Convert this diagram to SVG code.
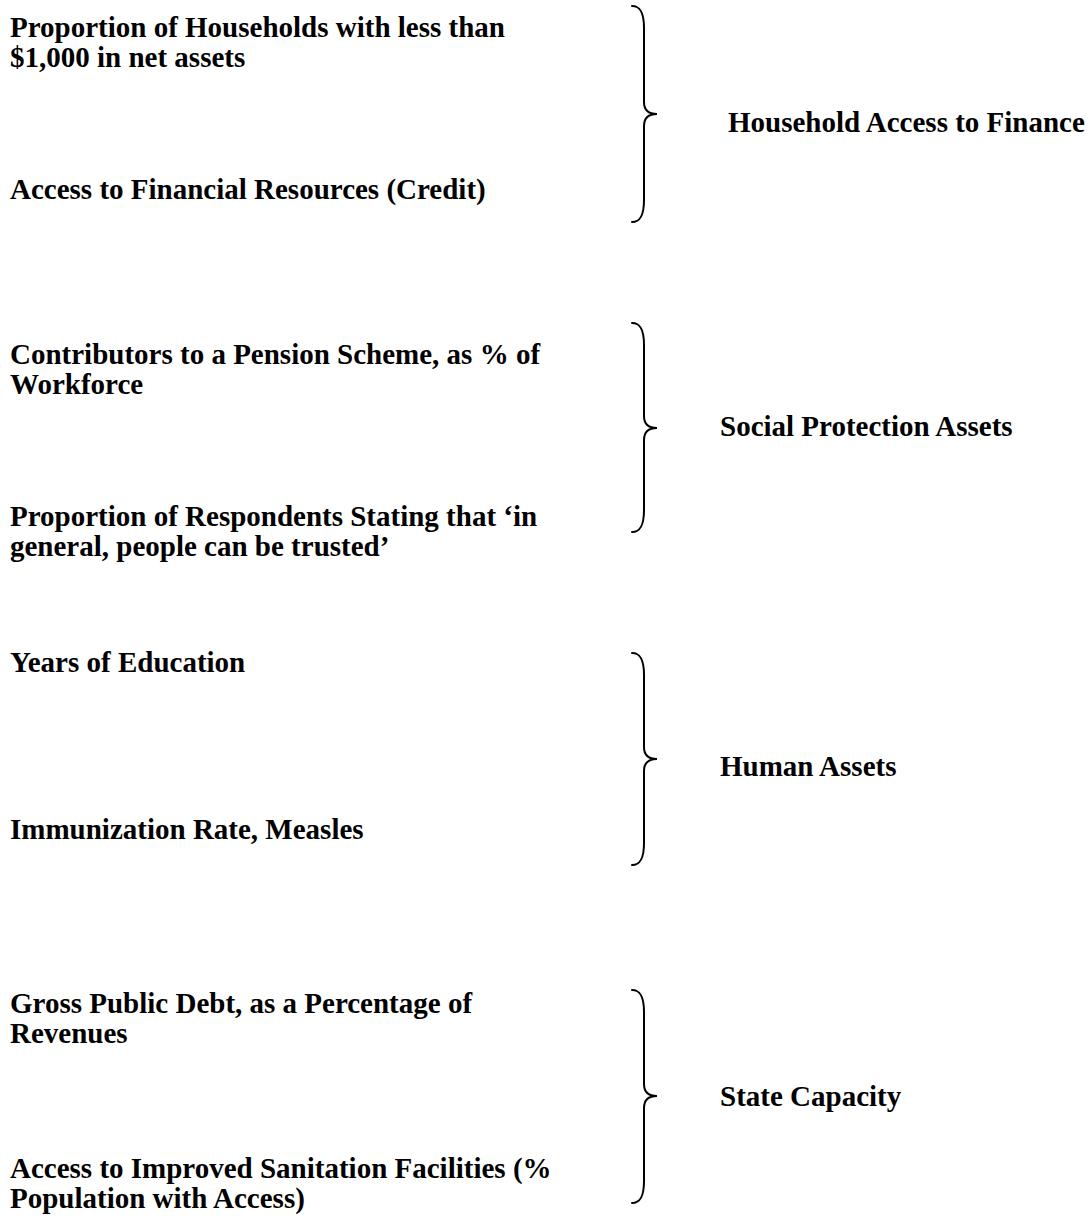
<svg xmlns="http://www.w3.org/2000/svg" width="1088" height="1218" viewBox="0 0 1088 1218">
  <style>
    .t { font-family: "Liberation Serif", "Times New Roman", serif; font-weight: bold; font-size: 29px; fill: #000; }
    .brace { fill: none; stroke: #000; stroke-width: 2; stroke-linecap: round; }
  </style>
  <rect width="1088" height="1218" fill="#fff"/>

  <!-- indicator labels -->
  <g id="ind-net-assets"><text class="t" x="10" y="37">Proportion of Households with less than</text><text class="t" x="10" y="67">$1,000 in net assets</text></g>
  <g id="ind-credit"><text class="t" x="10" y="199">Access to Financial Resources (Credit)</text></g>
  <g id="ind-pension"><text class="t" x="10" y="364">Contributors to a Pension Scheme, as % of</text><text class="t" x="10" y="394">Workforce</text></g>
  <g id="ind-trust"><text class="t" x="10" y="526">Proportion of Respondents Stating that ‘in</text><text class="t" x="10" y="556">general, people can be trusted’</text></g>
  <g id="ind-education"><text class="t" x="10" y="672">Years of Education</text></g>
  <g id="ind-immunization"><text class="t" x="10" y="839">Immunization Rate, Measles</text></g>
  <g id="ind-debt"><text class="t" x="10" y="1013">Gross Public Debt, as a Percentage of</text><text class="t" x="10" y="1043">Revenues</text></g>
  <g id="ind-sanitation"><text class="t" x="10" y="1178">Access to Improved Sanitation Facilities (%</text><text class="t" x="10" y="1208">Population with Access)</text></g>

  <!-- category labels -->
  <g id="cat-finance"><text class="t" x="728" y="132">Household Access to Finance</text></g>
  <g id="cat-social"><text class="t" x="720" y="436">Social Protection Assets</text></g>
  <g id="cat-human"><text class="t" x="720" y="776">Human Assets</text></g>
  <g id="cat-state"><text class="t" x="720" y="1106">State Capacity</text></g>

  <!-- grouping braces -->
  <g id="connectors">
    <path class="brace" d="M632 6 C640 6 644 12 644 28 L644 102 C644 110 648 114 657 114 C648 114 644 118 644 126 L644 200 C644 216 640 222 632 222"/>
    <path class="brace" d="M632 323 C640 323 644 329 644 345 L644 416 C644 424 648 428 657 428 C648 428 644 432 644 440 L644 510 C644 526 640 532 632 532"/>
    <path class="brace" d="M632 653 C640 653 644 659 644 675 L644 747 C644 755 648 759 657 759 C648 759 644 763 644 771 L644 843 C644 859 640 865 632 865"/>
    <path class="brace" d="M632 990 C640 990 644 996 644 1012 L644 1084 C644 1092 648 1096 657 1096 C648 1096 644 1100 644 1108 L644 1181 C644 1197 640 1203 632 1203"/>
  </g>
</svg>
